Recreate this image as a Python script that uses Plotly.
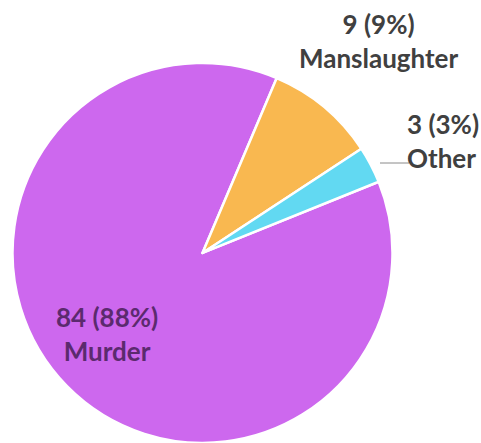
import plotly.graph_objects as go

categories = ["Murder", "Manslaughter", "Other"]
counts = [84, 9, 3]
percents = ["88%", "9%", "3%"]
colors = ["#CD68EE", "#F9B850", "#62D9F2"]

labels_text = [f"{c} ({p})<br>{n}" for c, p, n in zip(counts, percents, categories)]

W, H = 481, 443

fig = go.Figure()
fig.add_trace(go.Pie(
    labels=categories,
    values=counts,
    sort=False,
    direction="clockwise",
    rotation=68,
    marker=dict(colors=colors, line=dict(color="white", width=2.5)),
    textinfo="none",
    hoverinfo="label+value+percent",
    showlegend=False,
    domain=dict(x=[0.026, 0.816], y=[0.0, 0.858]),
))

font = dict(family="Lato, Open Sans, sans-serif", size=26, color="#404040", weight=900)
fig.add_annotation(x=379 / W, y=(H - 41) / H, xref="paper", yref="paper",
                   xanchor="center", yanchor="middle",
                   text=f"<b>{labels_text[1]}</b>", showarrow=False,
                   font=font, align="center")
fig.add_annotation(x=405 / W, y=(H - 141) / H, xref="paper", yref="paper",
                   xanchor="left", yanchor="middle",
                   text=f"<b>{labels_text[2]}</b>", showarrow=False,
                   font=font, align="left")
fig.add_shape(type="line", xref="paper", yref="paper",
              x0=380 / W, y0=(H - 163) / H, x1=409 / W, y1=(H - 163) / H,
              line=dict(color="#8a8a8a", width=1))
fig.add_annotation(x=107 / W, y=(H - 334) / H, xref="paper", yref="paper",
                   xanchor="center", yanchor="middle",
                   text=f"<b>{labels_text[0]}</b>", showarrow=False,
                   font=dict(family="Lato, Open Sans, sans-serif", size=26,
                             color="#5B2A6E", weight=900),
                   align="center")

fig.update_layout(
    width=W, height=H,
    margin=dict(l=0, r=0, t=0, b=0),
    paper_bgcolor="white",
    plot_bgcolor="white",
)
fig.write_html("out.html",
               config={"displayModeBar": False},
               post_script="document.body.style.margin='0';document.body.style.overflow='hidden';")
